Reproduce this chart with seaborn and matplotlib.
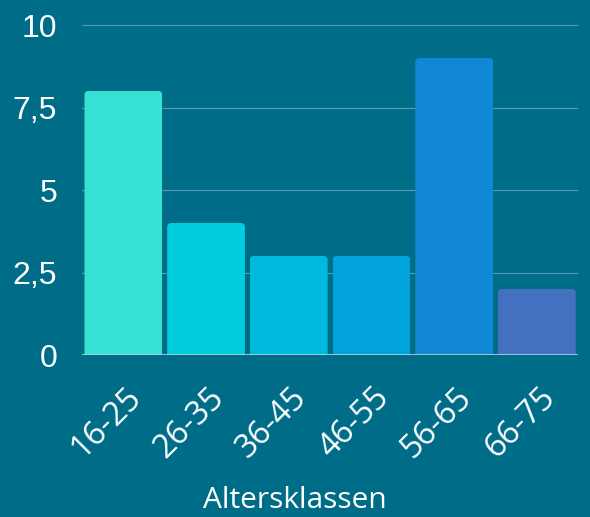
import matplotlib
matplotlib.use("Agg")
import matplotlib.pyplot as plt
import matplotlib.transforms as mtransforms
import seaborn as sns
import pandas as pd
from matplotlib.patches import FancyBboxPatch

categories = ["16-25", "26-35", "36-45", "46-55", "56-65", "66-75"]
values = [8, 4, 3, 3, 9, 2]
colors = ["#36e2d4", "#00cedd", "#00bade", "#00a3dc", "#1188d3", "#4470c0"]
yticks = [0, 2.5, 5, 7.5, 10]
ytick_labels = ["0", "2,5", "5", "7,5", "10"]

bg = "#006d88"
df = pd.DataFrame({"Altersklassen": categories, "Anzahl": values})

sns.set_style("white")
fig = plt.figure(figsize=(5.9, 5.17), dpi=100, facecolor=bg)
ax = fig.add_axes([0.139, 0.3133, 0.841, 0.6383])
ax.set_facecolor(bg)

sns.barplot(data=df, x="Altersklassen", y="Anzahl", hue="Altersklassen",
            palette=colors, saturation=1, width=0.94, legend=False, ax=ax, zorder=3)

# rounded top corners via clip path
for p in ax.patches:
    x, y = p.get_x(), p.get_y()
    w, h = p.get_width(), p.get_height()
    clip = FancyBboxPatch((x, y - 1), w, h + 1, boxstyle="round,pad=0,rounding_size=0.05",
                          mutation_aspect=2.4, transform=ax.transData,
                          facecolor="none", edgecolor="none")
    p.set_clip_path(clip)
    p.set_edgecolor("none")

ax.set_xlim(-0.5, len(categories) - 0.5)
ax.set_ylim(0, 10)
ax.set_yticks(yticks)
ax.set_yticklabels(ytick_labels, fontsize=23, color="white", family="Liberation Sans")
ax.set_xticks(range(len(categories)))
ax.set_xticklabels(categories, rotation=45, ha="right", va="center", rotation_mode="anchor",
                   fontsize=23.5, color="white", family="Open Sans")
ax.tick_params(axis="both", length=0)
ax.tick_params(axis="y", pad=18)
ax.tick_params(axis="x", pad=27)
shift = mtransforms.ScaledTranslation(0.13, 0, fig.dpi_scale_trans)
for lab in ax.get_xticklabels():
    lab.set_transform(lab.get_transform() + shift)
for t in yticks[1:]:
    ax.axhline(t, color="#5a9db2", lw=0.8, zorder=1)
ax.axhline(0, color="#b8cfdc", lw=1.2, zorder=4)
for s in ax.spines.values():
    s.set_visible(False)
ax.set_ylabel("")
ax.set_xlabel("Altersklassen", fontsize=21.5, color="white", family="Open Sans", va="baseline")
ax.xaxis.set_label_coords(0.43, -0.463)

fig.savefig("out.png", dpi=100, facecolor=bg)
